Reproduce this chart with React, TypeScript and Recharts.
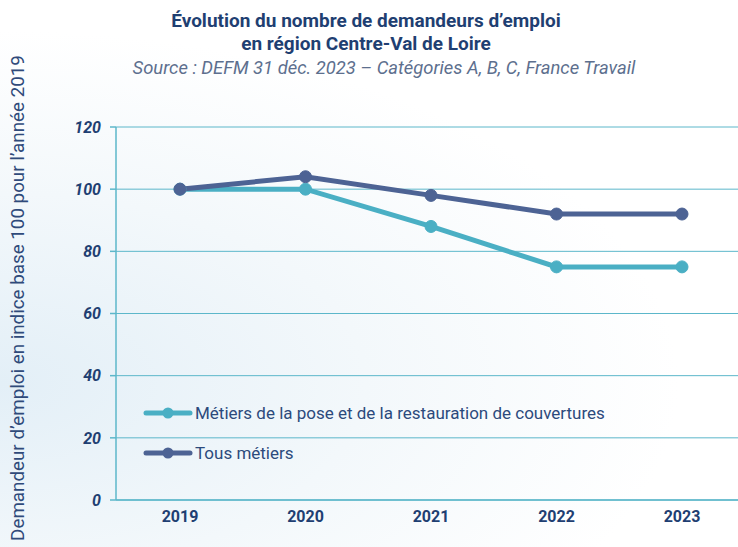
import { CartesianGrid, Line, LineChart, XAxis, YAxis } from "recharts";

const YEARS = ["2019", "2020", "2021", "2022", "2023"];
const METIERS_COUVERTURE = [100, 100, 88, 75, 75];
const TOUS_METIERS = [100, 104, 98, 92, 92];
const Y_TICKS = [0, 20, 40, 60, 80, 100, 120];

const data = YEARS.map((year, i) => ({
  year,
  couverture: METIERS_COUVERTURE[i],
  tous: TOUS_METIERS[i],
}));

const TEAL = "#4aafc4";
const NAVY = "#4d6394";
const AXIS = "#5cb7ca";
const TEXT = "#1f3f72";
const FONT = "Roboto, 'Noto Sans', sans-serif";

const SERIES = [
  { key: "couverture", name: "Métiers de la pose et de la restauration de couvertures", color: TEAL },
  { key: "tous", name: "Tous métiers", color: NAVY },
];

const LegendBox = () => (
  <div style={{ position: "absolute", left: 143, top: 393 }}>
    {SERIES.map((s) => (
      <div key={s.key} style={{ display: "flex", alignItems: "center", height: 40 }}>
        <svg width={50} height={14}>
          <line x1={3} y1={7} x2={47} y2={7} stroke={s.color} strokeWidth={5} strokeLinecap="round" />
          <circle cx={25} cy={7} r={5.5} fill={s.color} />
        </svg>
        <span style={{ fontSize: 17, color: "#2c4a7c", marginLeft: 2 }}>{s.name}</span>
      </div>
    ))}
  </div>
);

const App = () => {
  return (
    <div
      style={{
        position: "absolute",
        left: 0,
        top: 0,
        width: 738,
        height: 547,
        overflow: "hidden",
        fontFamily: FONT,
        background:
          "radial-gradient(ellipse at 0% 70%, #e3eff7 0%, #f3f8fb 35%, #ffffff 65%)",
      }}
    >
      <div
        style={{
          position: "absolute",
          top: 9,
          left: 0,
          width: 732,
          textAlign: "center",
          fontWeight: 700,
          fontSize: 19,
          color: TEXT,
          lineHeight: "23px",
        }}
      >
        Évolution du nombre de demandeurs d’emploi
        <br />
        en région Centre-Val de Loire
      </div>
      <div
        style={{
          position: "absolute",
          top: 55,
          left: 0,
          width: 768,
          textAlign: "center",
          fontStyle: "italic",
          fontSize: 18.4,
          color: "#5d6f8e",
          lineHeight: "26px",
        }}
      >
        Source : DEFM 31 déc. 2023 – Catégories A, B, C, France Travail
      </div>
      <div
        style={{
          position: "absolute",
          left: 18,
          top: 298,
          transform: "translate(-50%, -50%) rotate(-90deg)",
          whiteSpace: "nowrap",
          fontSize: 18.8,
          color: "#2f4a7a",
        }}
      >
        Demandeur d’emploi en indice base 100 pour l’année 2019
      </div>
      <LineChart
        width={738}
        height={547}
        data={data}
        margin={{ top: 127, right: 0, bottom: 17, left: 0 }}
        style={{ position: "absolute", left: 0, top: 0 }}
      >
        <CartesianGrid vertical={false} stroke={AXIS} strokeWidth={1} />
        <XAxis
          dataKey="year"
          height={30}
          padding={{ left: 64, right: 56 }}
          stroke={AXIS}
          strokeWidth={1.5}
          tickLine={false}
          tickSize={0}
          tickMargin={11}
          tick={{ fill: TEXT, fontSize: 16, fontWeight: 700 }}
        />
        <YAxis
          width={116}
          domain={[0, 120]}
          ticks={Y_TICKS}
          stroke={AXIS}
          strokeWidth={1.5}
          tickSize={6}
          tickMargin={9}
          tick={{ fill: TEXT, fontSize: 16, fontWeight: 700, fontStyle: "italic" }}
        />
        <Line
          dataKey="couverture"
          name={SERIES[0].name}
          stroke={TEAL}
          strokeWidth={5}
          dot={{ r: 6, fill: TEAL, stroke: TEAL, strokeWidth: 1 }}
          isAnimationActive={false}
        />
        <Line
          dataKey="tous"
          name={SERIES[1].name}
          stroke={NAVY}
          strokeWidth={5}
          dot={{ r: 6, fill: NAVY, stroke: NAVY, strokeWidth: 1 }}
          isAnimationActive={false}
        />
      </LineChart>
      <LegendBox />
    </div>
  );
};

export default App;
